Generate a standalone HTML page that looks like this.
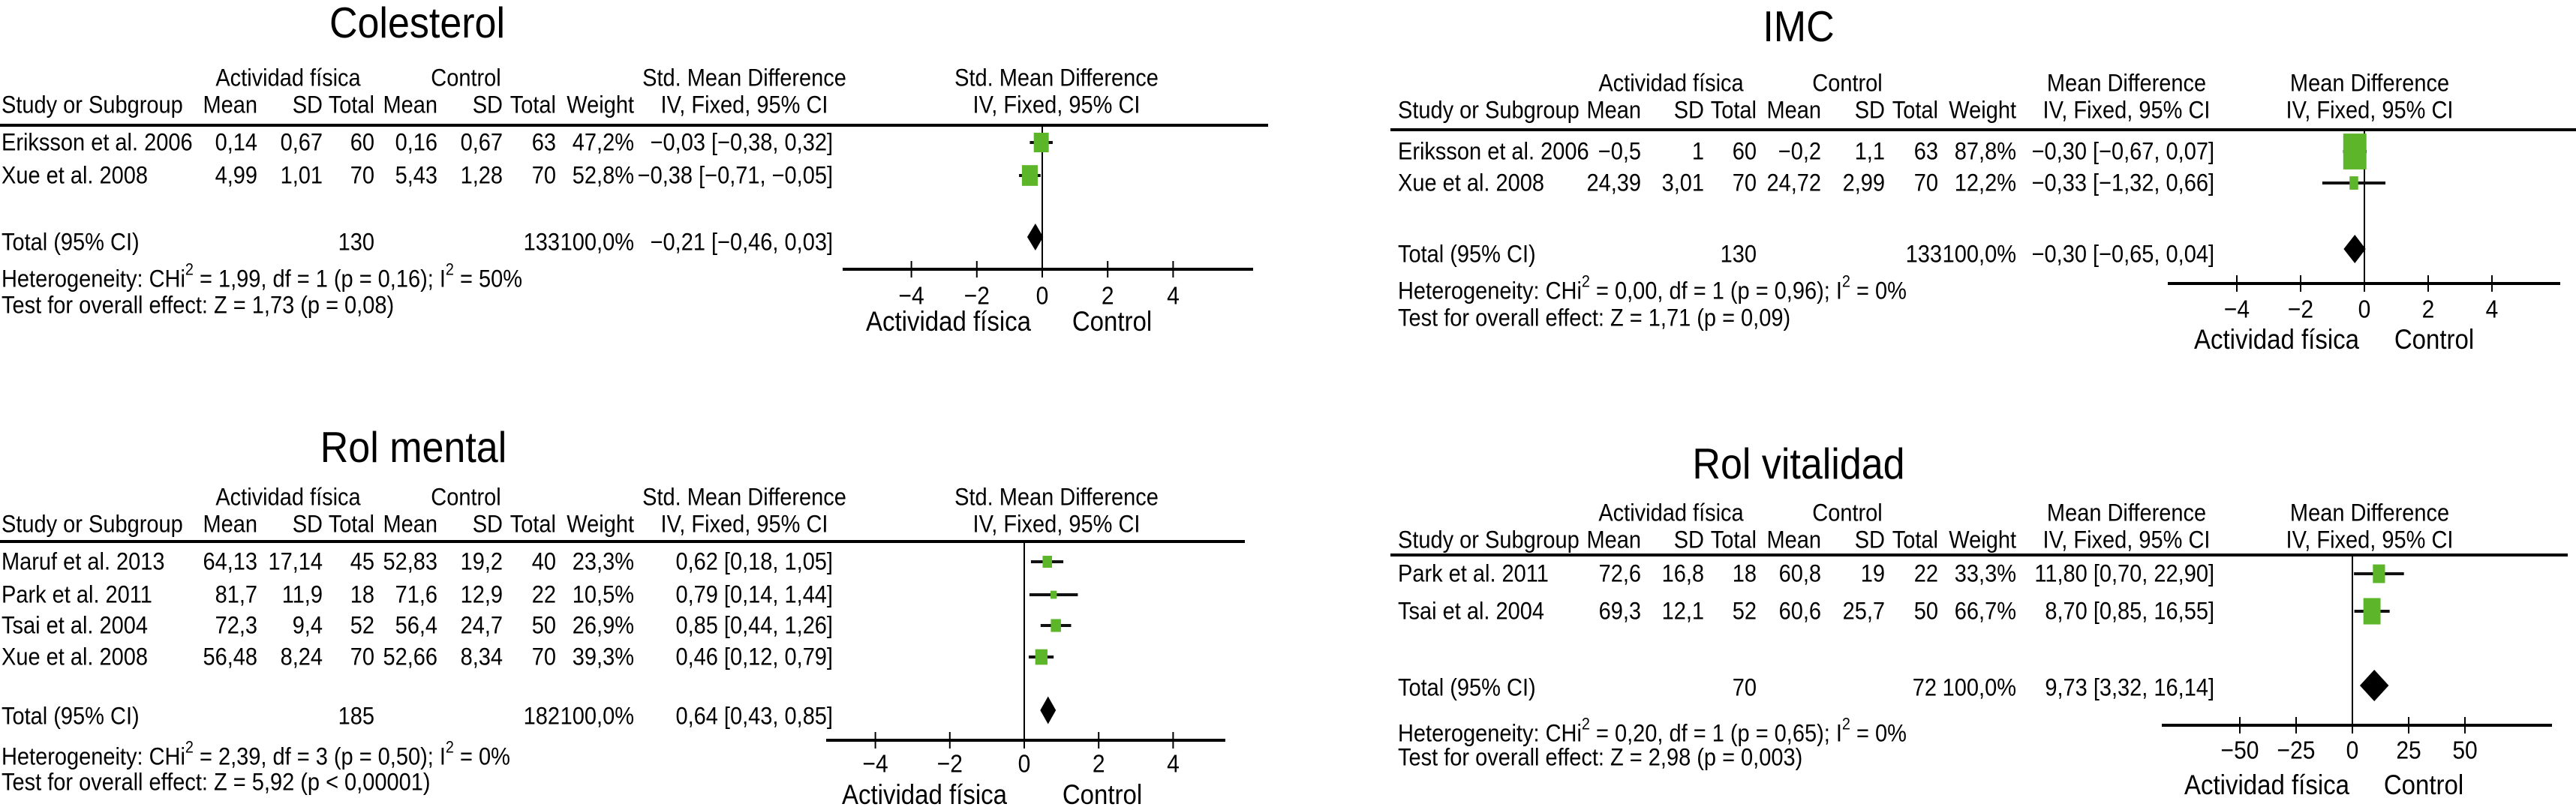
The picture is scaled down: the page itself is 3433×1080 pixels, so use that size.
<!DOCTYPE html>
<html><head><meta charset="utf-8">
<style>
html,body{margin:0;padding:0;background:#fff;}
svg{display:block;font-family:"Liberation Sans",Arial,sans-serif;}
</style></head>
<body>
<svg id="chart" width="3433" height="1080" viewBox="0 0 3433 1080" xmlns="http://www.w3.org/2000/svg"></svg>
<script>
// ---- Colesterol ----
const colStudies = ["Eriksson et al. 2006", "Xue et al. 2008"];
const colM1 = ["0,14", "4,99"]; const colSD1 = ["0,67", "1,01"]; const colN1 = ["60", "70"];
const colM2 = ["0,16", "5,43"]; const colSD2 = ["0,67", "1,28"]; const colN2 = ["63", "70"];
const colWeights = [47.2, 52.8];
const colEst = [-0.03, -0.38]; const colLo = [-0.38, -0.71]; const colHi = [0.32, -0.05];
const colTotal = [-0.21, -0.46, 0.03];
const colTicks = [-4, -2, 0, 2, 4];
// ---- IMC ----
const imcStudies = ["Eriksson et al. 2006", "Xue et al. 2008"];
const imcM1 = ["−0,5", "24,39"]; const imcSD1 = ["1", "3,01"]; const imcN1 = ["60", "70"];
const imcM2 = ["−0,2", "24,72"]; const imcSD2 = ["1,1", "2,99"]; const imcN2 = ["63", "70"];
const imcWeights = [87.8, 12.2];
const imcEst = [-0.30, -0.33]; const imcLo = [-0.67, -1.32]; const imcHi = [0.07, 0.66];
const imcTotal = [-0.30, -0.65, 0.04];
const imcTicks = [-4, -2, 0, 2, 4];
// ---- Rol mental ----
const rmStudies = ["Maruf et al. 2013", "Park et al. 2011", "Tsai et al. 2004", "Xue et al. 2008"];
const rmM1 = ["64,13", "81,7", "72,3", "56,48"]; const rmSD1 = ["17,14", "11,9", "9,4", "8,24"]; const rmN1 = ["45", "18", "52", "70"];
const rmM2 = ["52,83", "71,6", "56,4", "52,66"]; const rmSD2 = ["19,2", "12,9", "24,7", "8,34"]; const rmN2 = ["40", "22", "50", "70"];
const rmWeights = [23.3, 10.5, 26.9, 39.3];
const rmEst = [0.62, 0.79, 0.85, 0.46]; const rmLo = [0.18, 0.14, 0.44, 0.12]; const rmHi = [1.05, 1.44, 1.26, 0.79];
const rmTotal = [0.64, 0.43, 0.85];
const rmTicks = [-4, -2, 0, 2, 4];
// ---- Rol vitalidad ----
const rvStudies = ["Park et al. 2011", "Tsai et al. 2004"];
const rvM1 = ["72,6", "69,3"]; const rvSD1 = ["16,8", "12,1"]; const rvN1 = ["18", "52"];
const rvM2 = ["60,8", "60,6"]; const rvSD2 = ["19", "25,7"]; const rvN2 = ["22", "50"];
const rvWeights = [33.3, 66.7];
const rvEst = [11.80, 8.70]; const rvLo = [0.70, 0.85]; const rvHi = [22.90, 16.55];
const rvTotal = [9.73, 3.32, 16.14];
const rvTicks = [-50, -25, 0, 25, 50];

const NS = "http://www.w3.org/2000/svg";
const svg = document.getElementById("chart");
const SX = 0.9;
function mk(tag, attrs, parent) {
  const e = document.createElementNS(NS, tag);
  for (const k in attrs) e.setAttribute(k, attrs[k]);
  (parent || svg).appendChild(e);
  return e;
}
function txt(parent, x, y, s, anchor, size, name) {
  const fs = (size || 29) / SX;
  const t = mk("text", {x: 0, y: 0, transform: "translate(" + x + "," + y + ") scale(" + SX + ",1)", "text-anchor": anchor || "start", "font-size": fs, fill: "#000", "dominant-baseline": "central"}, parent);
  t.textContent = s;
  
  
  return t;
}
function fmt(v) { return (v < 0 ? "−" : "") + Math.abs(v).toFixed(2).replace(".", ","); }
function ciStr(e, l, h) { return fmt(e) + " [" + fmt(l) + ", " + fmt(h) + "]"; }

function panel(c) {
  const g = mk("g", {});
  
  
  txt(g, c.titleX, c.titleY, c.title, "middle", 52, "panel-title");
  const C = c.cols;
  txt(g, c.h1[0], c.hy1, "Actividad física", "middle", 29, "group-header-exp");
  txt(g, c.h1[1], c.hy1, "Control", "middle", 29, "group-header-ctrl");
  txt(g, c.h1[2], c.hy1, c.measure, "middle", 29, "effect-header");
  txt(g, c.h1[3], c.hy1, c.measure, "middle", 29, "plot-header");
  txt(g, C[0], c.hy2, "Study or Subgroup", "start", 29, "col-study");
  const hd = ["Mean", "SD", "Total", "Mean", "SD", "Total", "Weight"];
  for (let i = 0; i < hd.length; i++) txt(g, C[i + 1], c.hy2, hd[i], "end", 29, "col-header");
  txt(g, c.h1[2], c.hy2, "IV, Fixed, 95% CI", "middle", 29, "effect-subheader");
  txt(g, c.h1[3], c.hy2, "IV, Fixed, 95% CI", "middle", 29, "plot-subheader");
  const hl = mk("line", {x1: c.lineX[0], x2: c.lineX[1], y1: c.lineY, y2: c.lineY, stroke: "#000", "stroke-width": 4}, g);
  
  
  const xs = v => c.zeroX + v * c.unit;
  const zl = mk("line", {x1: xs(0), x2: xs(0), y1: c.lineY, y2: c.axisY, stroke: "#000", "stroke-width": 2}, g);
  
  
  const d = c.d;
  for (let i = 0; i < d.studies.length; i++) {
    const y = c.rows[i];
    txt(g, C[0], y, d.studies[i], "start", 29, "study-name");
    const vals = [d.m1[i], d.sd1[i], d.n1[i], d.m2[i], d.sd2[i], d.n2[i], d.w[i].toFixed(1).replace(".", ",") + "%"];
    for (let j = 0; j < vals.length; j++) txt(g, C[j + 1], y, vals[j], "end", 29, "study-value");
    txt(g, C[8], y, ciStr(d.est[i], d.lo[i], d.hi[i]), "end", 29, "study-ci");
    const ci = mk("line", {x1: xs(d.lo[i]), x2: xs(d.hi[i]), y1: y, y2: y, stroke: "#111", "stroke-width": 4}, g);
    
    
    const sw = c.kw * Math.sqrt(d.w[i]), sh = c.kh * Math.sqrt(d.w[i]);
    const sq = mk("rect", {x: xs(d.est[i]) - sw / 2, y: y - sh / 2, width: sw, height: sh, fill: "#5db52a"}, g);
    
    
  }
  const ty = c.totalY;
  txt(g, C[0], ty, "Total (95% CI)", "start", 29, "total-label");
  txt(g, C[3], ty, d.t1, "end", 29, "total-n-exp");
  txt(g, C[7] - c.t2gap, ty, d.t2, "end", 29, "total-n-ctrl");
  txt(g, C[7], ty, "100,0%", "end", 29, "total-weight");
  txt(g, C[8], ty, ciStr(d.total[0], d.total[1], d.total[2]), "end", 29, "total-ci");
  const dy = c.diaY, dh = c.diaH;
  const dm = mk("polygon", {points: [xs(d.total[1]) + "," + dy, xs(d.total[0]) + "," + (dy - dh / 2), xs(d.total[2]) + "," + dy, xs(d.total[0]) + "," + (dy + dh / 2)].join(" "), fill: "#000"}, g);
  
  
  const h = mk("text", {x: 0, y: 0, transform: "translate(" + C[0] + "," + c.hetY + ") scale(" + SX + ",1)", "font-size": 29 / SX, "dominant-baseline": "central"}, g);
  
  
  h.innerHTML = 'Heterogeneity: CHi<tspan dy="-13" font-size="22">2</tspan><tspan dy="13"> = ' + d.het[0] + '); I</tspan><tspan dy="-13" font-size="22">2</tspan><tspan dy="13"> = ' + d.het[1] + '</tspan>';
  txt(g, C[0], c.testY, d.test, "start", 29, "overall-effect-text");
  const ax = mk("line", {x1: c.axX[0], x2: c.axX[1], y1: c.axisY, y2: c.axisY, stroke: "#000", "stroke-width": 4}, g);
  
  
  for (const tv of d.ticks) {
    const tk = mk("line", {x1: xs(tv), x2: xs(tv), y1: c.axisY - 11, y2: c.axisY + 11, stroke: "#000", "stroke-width": 2}, g);
    
    
    txt(g, xs(tv), c.tickY, (tv < 0 ? "−" : "") + Math.abs(tv), "middle", 30, "x-tick-label");
  }
  txt(g, c.favX[0], c.favY, "Actividad física", "middle", 33, "favours-exp-label");
  txt(g, c.favX[1], c.favY, "Control", "middle", 33, "favours-ctrl-label");
}

const leftCols = [2, 343, 430, 499, 583, 670, 741, 845, 1110];
const rightCols = [1863, 2187, 2271, 2341, 2427, 2512, 2583, 2687, 2951];

panel({name: "colesterol-panel", title: "Colesterol", titleX: 556, titleY: 30, measure: "Std. Mean Difference",
  cols: leftCols, h1: [384, 621, 992, 1408], hy1: 104, hy2: 140, lineX: [0, 1690], lineY: 167,
  zeroX: 1389, unit: 43.6, rows: [190, 234], totalY: 323, diaY: 316, diaH: 36, hetY: 372, testY: 407,
  axisY: 359, axX: [1123, 1670], tickY: 394, favX: [1264, 1482], favY: 429, kw: 2.9, kh: 3.8, t2gap: 99,
  d: {studies: colStudies, m1: colM1, sd1: colSD1, n1: colN1, m2: colM2, sd2: colSD2, n2: colN2, w: colWeights,
      est: colEst, lo: colLo, hi: colHi, total: colTotal, t1: "130", t2: "133", ticks: colTicks,
      het: ["1,99, df = 1 (p = 0,16", "50%"], test: "Test for overall effect: Z = 1,73 (p = 0,08)"}});

panel({name: "imc-panel", title: "IMC", titleX: 2397, titleY: 35, measure: "Mean Difference",
  cols: rightCols, h1: [2227, 2462, 2834, 3158], hy1: 111, hy2: 147, lineX: [1853, 3433], lineY: 173,
  zeroX: 3151, unit: 42.5, rows: [202, 244], totalY: 339, diaY: 332, diaH: 38, hetY: 388, testY: 424,
  axisY: 378, axX: [2889, 3412], tickY: 412, favX: [3034, 3244], favY: 453, kw: 3.3, kh: 5.1, t2gap: 99,
  d: {studies: imcStudies, m1: imcM1, sd1: imcSD1, n1: imcN1, m2: imcM2, sd2: imcSD2, n2: imcN2, w: imcWeights,
      est: imcEst, lo: imcLo, hi: imcHi, total: imcTotal, t1: "130", t2: "133", ticks: imcTicks,
      het: ["0,00, df = 1 (p = 0,96", "0%"], test: "Test for overall effect: Z = 1,71 (p = 0,09)"}});

panel({name: "rol-mental-panel", title: "Rol mental", titleX: 551, titleY: 596, measure: "Std. Mean Difference",
  cols: leftCols, h1: [384, 621, 992, 1408], hy1: 663, hy2: 699, lineX: [0, 1659], lineY: 722,
  zeroX: 1365, unit: 49.6, rows: [749, 793, 834, 876], totalY: 955, diaY: 947, diaH: 37, hetY: 1009, testY: 1043,
  axisY: 987, axX: [1101, 1633], tickY: 1018, favX: [1232, 1469], favY: 1060, kw: 2.6, kh: 3.3, t2gap: 99,
  d: {studies: rmStudies, m1: rmM1, sd1: rmSD1, n1: rmN1, m2: rmM2, sd2: rmSD2, n2: rmN2, w: rmWeights,
      est: rmEst, lo: rmLo, hi: rmHi, total: rmTotal, t1: "185", t2: "182", ticks: rmTicks,
      het: ["2,39, df = 3 (p = 0,50", "0%"], test: "Test for overall effect: Z = 5,92 (p < 0,00001)"}});

panel({name: "rol-vitalidad-panel", title: "Rol vitalidad", titleX: 2397, titleY: 618, measure: "Mean Difference",
  cols: rightCols, h1: [2227, 2462, 2834, 3158], hy1: 684, hy2: 720, lineX: [1853, 3422], lineY: 740,
  zeroX: 3135, unit: 3.0, rows: [765, 815], totalY: 917, diaY: 914, diaH: 42, hetY: 978, testY: 1010,
  axisY: 967, axX: [2881, 3401], tickY: 1000, favX: [3021, 3230], favY: 1047, kw: 2.8, kh: 4.3, t2gap: 106,
  d: {studies: rvStudies, m1: rvM1, sd1: rvSD1, n1: rvN1, m2: rvM2, sd2: rvSD2, n2: rvN2, w: rvWeights,
      est: rvEst, lo: rvLo, hi: rvHi, total: rvTotal, t1: "70", t2: "72", ticks: rvTicks,
      het: ["0,20, df = 1 (p = 0,65", "0%"], test: "Test for overall effect: Z = 2,98 (p = 0,003)"}});
</script>
</body></html>
